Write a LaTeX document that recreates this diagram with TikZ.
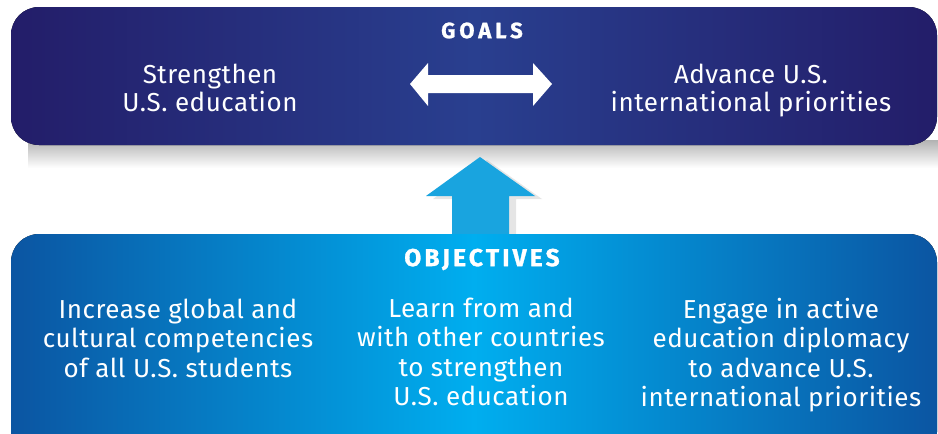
\documentclass[tikz,border=0pt]{standalone}
\usepackage{fontspec}
\setmainfont[LetterSpace=2]{Fira Sans}
\newfontfamily\goalsfont[LetterSpace=18, BoldFeatures={FakeBold=1.2}]{Fira Sans}
\newfontfamily\objfont[LetterSpace=13, BoldFeatures={FakeBold=1.2}]{Fira Sans}
\usetikzlibrary{shadows}

\definecolor{navydark}{HTML}{231D69}
\definecolor{navymid}{HTML}{293F8F}
\definecolor{bluedark}{HTML}{0B55A2}
\definecolor{bluelight}{HTML}{00AEEF}
\definecolor{arrowblue}{HTML}{19A4DF}

\tikzset{
  bodytext/.style={text=white, align=center, font=\fontsize{26}{28.5}\selectfont},
  lowtext/.style={bodytext, font=\fontsize{26}{29.5}\selectfont},
  headtext/.style={text=white}
}

\begin{document}
\begin{tikzpicture}[x=1pt, y=-1pt]
  \clip (0,0) rectangle (938,434);
  \fill[white] (0,0) rectangle (938,434);

  % soft shadow under the goals box
  \fill[top color=black!30, bottom color=white] (28,140) rectangle (938,168);

  % goals box
  \fill[left color=navydark, right color=navydark, middle color=navymid, rounded corners=28pt]
    (11,7) rectangle (937,145);

  % up arrow
  \fill[arrowblue, drop shadow={shadow xshift=7pt, shadow yshift=-3pt, opacity=0.2}]
    (480,157) -- (535,196) -- (509,196) -- (509,240) -- (452,240) -- (452,196) -- (426,196) -- cycle;

  % objectives box
  \fill[left color=bluedark, right color=bluedark, middle color=bluelight, rounded corners=28pt]
    (11,234) rectangle (937,460);

  % double arrow
  \fill[white] (410,84) -- (428,63) -- (428,75) -- (533,75) -- (533,63) -- (552,84)
    -- (533,106) -- (533,93) -- (428,93) -- (428,106) -- cycle;

  \node[headtext, font=\goalsfont\bfseries\fontsize{22}{24}\selectfont] (goals) at (482,30.5) {GOALS};
  \node[bodytext] (educ) at (210,88) {Strengthen\\U.S. education};
  \node[bodytext] (intl) at (751,90.5) {Advance U.S.\\international priorities};

  \node[headtext, font=\objfont\bfseries\fontsize{24.5}{26}\selectfont] (obj) at (482,259.5) {OBJECTIVES};
  \node[lowtext] (global) at (178,338) {Increase global and\\cultural competencies\\of all U.S. students};
  \node[lowtext] (learn) at (481,352) {Learn from and\\with other countries\\to strengthen\\U.S. education};
  \node[lowtext] (engage) at (781,355) {Engage in active\\education diplomacy\\to advance U.S.\\international priorities};
\end{tikzpicture}
\end{document}
